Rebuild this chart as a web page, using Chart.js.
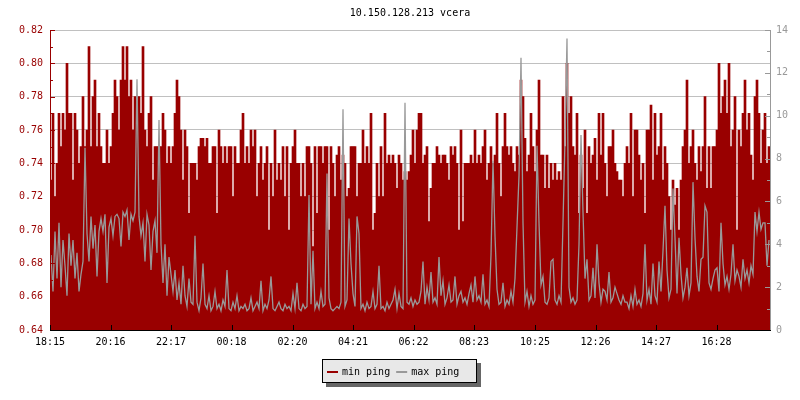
<!DOCTYPE html>
<html><head><meta charset="utf-8">
<script src="https://cdn.jsdelivr.net/npm/chart.js@4.4.0/dist/chart.umd.min.js"></script>
<style>html,body{margin:0;padding:0;background:#fff;overflow:hidden}</style>
</head><body>
<canvas id="c" width="800" height="400"></canvas>
<script>
const chartTitle = "10.150.128.213 vcera";
const startTime = "18:15";
const spanMinutes = 1440;
const timeTicks = ["18:15","20:16","22:17","00:18","02:20","04:21","06:22","08:23","10:25","12:26","14:27","16:28"];
const seriesNames = ["min ping", "max ping"];
const leftRange = [0.64, 0.82];
const rightRange = [0, 14];

// min ping (left axis), one value per 4-minute slot
const minPing = [
0.73,0.77,0.72,0.74,0.77,0.75,0.77,0.76,0.80,0.77,0.77,0.73,
0.77,0.76,0.74,0.75,0.78,0.75,0.76,0.81,0.75,0.78,0.79,0.75,
0.77,0.75,0.74,0.74,0.76,0.74,0.75,0.77,0.79,0.78,0.76,0.79,
0.81,0.79,0.81,0.78,0.79,0.76,0.78,0.77,0.78,0.77,0.81,0.76,
0.75,0.77,0.78,0.73,0.75,0.75,0.75,0.75,0.77,0.76,0.74,0.75,
0.74,0.75,0.77,0.79,0.78,0.76,0.73,0.76,0.75,0.71,0.74,0.74,
0.74,0.73,0.75,0.755,0.755,0.75,0.755,0.74,0.74,0.75,0.75,0.71,
0.76,0.75,0.74,0.75,0.74,0.75,0.75,0.72,0.75,0.74,0.74,0.76,
0.77,0.74,0.75,0.74,0.76,0.75,0.76,0.72,0.74,0.75,0.73,0.74,
0.75,0.70,0.74,0.72,0.76,0.73,0.74,0.73,0.75,0.72,0.75,0.70,
0.74,0.75,0.76,0.74,0.74,0.72,0.74,0.72,0.75,0.75,0.74,0.69,
0.75,0.71,0.75,0.75,0.74,0.75,0.75,0.70,0.75,0.74,0.72,0.745,
0.75,0.73,0.745,0.74,0.72,0.725,0.75,0.75,0.75,0.72,0.74,0.74,
0.76,0.74,0.75,0.74,0.77,0.70,0.71,0.74,0.72,0.75,0.72,0.77,
0.74,0.745,0.74,0.745,0.74,0.725,0.745,0.74,0.73,0.735,0.73,0.735,
0.745,0.76,0.74,0.76,0.77,0.77,0.74,0.745,0.75,0.705,0.725,0.74,
0.74,0.75,0.745,0.74,0.745,0.745,0.74,0.73,0.75,0.745,0.75,0.74,
0.70,0.76,0.705,0.74,0.74,0.74,0.745,0.74,0.76,0.74,0.745,0.74,
0.75,0.76,0.73,0.74,0.75,0.74,0.745,0.77,0.74,0.72,0.75,0.77,
0.75,0.745,0.75,0.74,0.735,0.75,0.745,0.79,0.78,0.755,0.735,0.745,
0.77,0.75,0.735,0.76,0.79,0.745,0.745,0.725,0.745,0.725,0.74,0.73,
0.74,0.73,0.735,0.73,0.78,0.75,0.80,0.77,0.78,0.75,0.745,0.77,
0.71,0.745,0.725,0.76,0.71,0.75,0.74,0.745,0.755,0.73,0.77,0.745,
0.77,0.74,0.72,0.75,0.75,0.76,0.74,0.735,0.73,0.73,0.72,0.74,
0.75,0.74,0.77,0.72,0.76,0.76,0.745,0.73,0.74,0.71,0.76,0.76,
0.775,0.73,0.77,0.745,0.75,0.77,0.73,0.75,0.74,0.72,0.70,0.73,
0.715,0.725,0.70,0.73,0.75,0.76,0.79,0.74,0.75,0.76,0.74,0.73,
0.75,0.735,0.75,0.78,0.725,0.75,0.725,0.75,0.75,0.76,0.80,0.77,
0.78,0.79,0.77,0.80,0.75,0.76,0.78,0.70,0.76,0.75,0.77,0.79,
0.76,0.77,0.745,0.73,0.78,0.79,0.77,0.74,0.76,0.77,0.74,0.75
];

// max ping (right axis)
const maxPing = [
3.5,1.8,4.6,2.4,5.0,2.0,4.2,3.0,1.6,4.5,
3.0,4.2,2.4,3.6,1.8,2.6,3.2,8.5,
4.5,3.2,5.3,3.8,4.9,2.5,4.6,
5.2,4.6,5.4,2.2,4.8,5.2,4.4,5.3,
5.4,5.2,3.9,5.5,5.3,5.6,4.2,5.4,5.1,5.5,
11.7,
5.3,4.4,5.0,3.2,5.4,4.9,2.8,4.6,5.1,3.6,
9.8,4.0,
2.2,4.0,1.6,3.4,2.6,1.8,
2.8,1.4,2.2,1.2,3.0,1.6,1.1,2.4,1.3,1.2,
4.4,1.3,0.9,1.5,3.1,1.2,1.0,1.6,0.9,1.1,
1.8,1.0,1.2,0.9,1.4,1.1,2.8,1.0,0.9,1.3,
1.0,1.6,0.9,1.1,1.0,1.2,0.9,1.0,1.5,0.9,
1.1,1.3,1.0,2.3,0.9,1.2,1.0,1.4,2.5,1.0,
0.9,1.1,1.3,1.0,0.9,1.2,1.0,1.1,0.9,1.7,
1.0,2.2,1.0,0.9,1.2,1.0,1.1,6.3,1.2,3.7,
1.0,1.3,1.0,1.8,1.1,1.2,7.3,1.5,1.0,0.9,
1.0,1.1,
1.0,1.3,10.3,1.1,1.4,5.2,3.1,1.7,1.1,5.3,
4.5,1.0,1.2,0.9,1.3,1.0,1.1,1.8,1.0,1.2,
3.0,1.0,1.1,0.9,1.3,1.0,1.2,1.4,1.9,1.0,
1.7,1.1,1.0,10.6,1.3,1.2,1.5,1.1,1.4,1.2,
1.3,1.8,3.2,1.2,2.0,1.4,2.7,1.3,1.5,1.2,
3.4,1.6,2.3,1.2,1.5,2.1,1.3,1.4,2.5,1.2,
1.6,1.8,1.3,1.5,1.2,1.7,2.1,1.3,2.5,1.4,
1.6,1.3,
2.6,1.2,1.4,1.1,3.5,7.9,4.4,1.9,1.2,1.3,
2.2,1.1,1.4,1.2,1.8,1.3,2.4,4.8,7.2,12.7,
5.0,1.3,1.8,1.1,1.6,1.2,1.4,8.6,5.0,2.1,
2.5,1.3,1.2,1.5,3.2,3.3,1.4,1.2,1.6,1.3,
5.0,8.9,13.6,2.0,1.3,1.5,1.2,1.4,4.0,9.1,
5.5,2.4,3.3,1.4,1.6,2.9,1.5,4.0,2.2,1.3,
1.9,1.8,1.4,2.7,1.3,1.5,2.0,1.7,1.4,1.2,
1.6,1.3,
1.3,1.0,1.6,1.1,1.9,1.2,1.4,1.1,1.7,4.0,
1.4,1.9,1.2,3.1,1.6,1.3,3.2,1.8,3.7,5.8,
2.8,1.5,1.9,6.6,4.3,1.7,4.3,2.6,1.5,2.0,
2.9,1.6,2.2,6.9,4.3,2.5,1.8,3.3,3.4,5.8,
5.5,2.2,1.9,2.4,2.8,2.9,1.8,5.0,3.1,2.1,
2.5,1.9,2.6,4.0,2.3,2.8,2.5,2.0,3.3,2.4,
2.8,2.2,3.0,2.6,5.5,4.6,5.5,4.7,5.0,5.0,
3.0,4.2
];

const RED = '#990000', GREY = '#999999', FONT = 'DejaVu Sans Mono';

function toMin(t){ const [h,m]=t.split(':').map(Number); return h*60+m; }
const t0 = toMin(startTime);
const tickMinutes = timeTicks.map(t => ((toMin(t) - t0) + 1440) % 1440);
const tickLabelAt = {}; tickMinutes.forEach((m,i)=>tickLabelAt[m]=timeTicks[i]);

const stepMin = spanMinutes / minPing.length;
const stepMax = spanMinutes / maxPing.length;
const minData = minPing.map((v,i)=>({x:i*stepMin + stepMin/2, y:v}));
const maxData = maxPing.map((v,i)=>({x:i*stepMax + stepMax/2, y:v}));

const decorPlugin = {
  id:'decor',
  afterDatasetsDraw(chart){
    const ctx = chart.ctx, a = chart.chartArea;
    const sy = chart.scales.y, sy2 = chart.scales.y2, sx = chart.scales.x;
    ctx.save();
    ctx.fillStyle = RED;
    ctx.fillRect(a.left, a.top, 1, a.bottom - a.top);
    for (let k = 0; k <= Math.round((leftRange[1]-leftRange[0])/0.01); k++){
      const v = leftRange[0] + k*0.01;
      const y = Math.round(sy.getPixelForValue(v));
      ctx.fillRect(a.left, y, (k%2===0)?5:3, 1);
    }
    ctx.fillStyle = GREY;
    ctx.fillRect(a.right, a.top, 1, a.bottom - a.top + 1);
    for (let v = rightRange[0]; v <= rightRange[1]; v++){
      const y = Math.round(sy2.getPixelForValue(v));
      const len = (v%2===0)?5:3;
      ctx.fillRect(a.right - len, y, len, 1);
    }
    ctx.fillStyle = '#000';
    ctx.fillRect(a.left, a.bottom, a.right - a.left + 1, 1);
    tickMinutes.forEach(m => {
      const x = Math.round(sx.getPixelForValue(m));
      ctx.fillRect(x, a.bottom - 5, 1, 5);
    });
    ctx.restore();
  },
  afterDraw(chart){
    const ctx = chart.ctx, a = chart.chartArea;
    ctx.save();
    ctx.font = '10px "' + FONT + '"';
    ctx.fillStyle = '#000';
    ctx.textAlign = 'center';
    ctx.textBaseline = 'middle';
    ctx.fillText(chartTitle, (a.left + a.right)/2, 13);
    const sw = 11, gap = 4, between = 6, padL = 5, padR = 18;
    const w0 = ctx.measureText(seriesNames[0]).width;
    const w1 = ctx.measureText(seriesNames[1]).width;
    const bw = Math.round(padL + sw + gap + w0 + between + sw + gap + w1 + padR);
    const bx = Math.round(399 - bw/2), by = 359, bh = 24;
    ctx.fillStyle = '#666666';
    ctx.fillRect(bx + 4, by + 4, bw, bh);
    ctx.fillStyle = '#e8e8e8';
    ctx.fillRect(bx, by, bw, bh);
    ctx.strokeStyle = '#000';
    ctx.lineWidth = 1;
    ctx.strokeRect(bx + 0.5, by + 0.5, bw - 1, bh - 1);
    let x = bx + padL;
    const cy = by + 12;
    const colors = [RED, GREY];
    [w0, w1].forEach((w, i) => {
      ctx.fillStyle = colors[i];
      ctx.fillRect(x, cy, sw, 2);
      x += sw + gap;
      ctx.fillStyle = '#000';
      ctx.textAlign = 'left';
      ctx.fillText(seriesNames[i], x, cy + 1);
      x += w + between;
    });
    ctx.restore();
  }
};

new Chart(document.getElementById('c'), {
  data: {
    datasets: [
      { type:'line', label: seriesNames[1], data: maxData, yAxisID:'y2', xAxisID:'x',
        borderColor: GREY, borderWidth: 1.3, pointRadius: 0, tension: 0, fill: false, order: 0 },
      { type:'bar', label: seriesNames[0], data: minData, yAxisID:'y', xAxisID:'x',
        backgroundColor: RED, borderWidth: 0, barPercentage: 1, categoryPercentage: 1, order: 1 }
    ]
  },
  options: {
    responsive: false,
    devicePixelRatio: 1,
    animation: false,
    layout: { padding: { top: 30, left: 0, right: 0, bottom: 0 } },
    plugins: { legend: { display: false }, tooltip: { enabled: false }, title: { display: false } },
    scales: {
      x: {
        type: 'linear', min: 0, max: spanMinutes, offset: false,
        afterBuildTicks: s => { s.ticks = tickMinutes.map(v => ({ value: v })); },
        ticks: { callback: v => tickLabelAt[v] || '', color: '#000', font: { family: FONT, size: 10 },
                 maxRotation: 0, autoSkip: false, padding: 6 },
        grid: { display: false, drawTicks: false },
        border: { display: false },
        afterFit: s => { s.height = 70; }
      },
      y: {
        position: 'left', min: leftRange[0], max: leftRange[1],
        afterBuildTicks: s => { const t=[]; for (let k=0;k<=9;k++) t.push({value: Math.round((leftRange[0]+k*0.02)*100)/100}); s.ticks=t; },
        ticks: { callback: v => Number(v).toFixed(2), color: RED, font: { family: FONT, size: 10 }, padding: 7 },
        grid: { color: '#c0c0c0', drawTicks: false, lineWidth: 1 },
        border: { display: false },
        afterFit: s => { s.width = 50; }
      },
      y2: {
        position: 'right', min: rightRange[0], max: rightRange[1],
        ticks: { stepSize: 2, color: GREY, font: { family: FONT, size: 10 }, padding: 6 },
        grid: { display: false, drawTicks: false },
        border: { display: false },
        afterFit: s => { s.width = 30; }
      }
    }
  },
  plugins: [decorPlugin]
});
</script>
</body></html>
